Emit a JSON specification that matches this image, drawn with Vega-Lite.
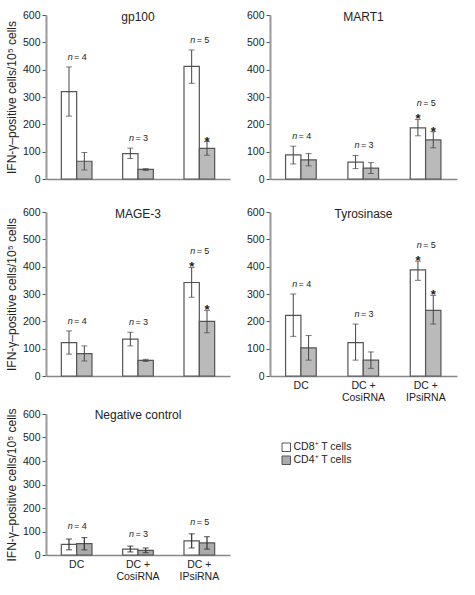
{
  "$schema": "https://vega.github.io/schema/vega-lite/v6.json",
  "background": "white",
  "padding": {"left": 5, "top": 10, "right": 5, "bottom": 2},
  "config": {
    "font": "Liberation Sans",
    "view": {"stroke": null},
    "axis": {"grid": false, "labelFont": "Liberation Sans", "labelFontSize": 10.5, "labelColor": "#222", "titleFont": "Liberation Sans", "titleFontSize": 12, "titleFontWeight": "normal", "titleColor": "#222", "tickColor": "#555", "tickSize": 4},
    "axisY": {"domainColor": "#999", "domainWidth": 2, "tickCount": 7, "labelPadding": 2, "titlePadding": 4, "labelOverlap": false},
    "axisX": {"domainColor": "#888", "domainWidth": 1.5, "ticks": false, "labelPadding": 4, "title": null, "labelAngle": 0, "labelLineHeight": 12},
    "title": {"font": "Liberation Sans", "fontSize": 12, "fontWeight": "normal", "offset": -14, "color": "#222", "anchor": "middle"},
    "text": {"font": "Liberation Sans", "color": "#222"}
  },
  "datasets": {
    "bars": [
      {"panel": "gp100", "group": "DC", "cell": "CD8⁺ T cells", "value": 320, "lo": 230, "hi": 410, "star": false, "n": 4},
      {"panel": "gp100", "group": "DC", "cell": "CD4⁺ T cells", "value": 65, "lo": 33, "hi": 97, "star": false, "n": 4},
      {"panel": "gp100", "group": "DC + CosiRNA", "cell": "CD8⁺ T cells", "value": 93, "lo": 75, "hi": 113, "star": false, "n": 3},
      {"panel": "gp100", "group": "DC + CosiRNA", "cell": "CD4⁺ T cells", "value": 35, "lo": 31, "hi": 38, "star": false, "n": 3},
      {"panel": "gp100", "group": "DC + IPsiRNA", "cell": "CD8⁺ T cells", "value": 412, "lo": 350, "hi": 472, "star": false, "n": 5},
      {"panel": "gp100", "group": "DC + IPsiRNA", "cell": "CD4⁺ T cells", "value": 112, "lo": 87, "hi": 137, "star": true, "n": 5},

      {"panel": "MART1", "group": "DC", "cell": "CD8⁺ T cells", "value": 88, "lo": 55, "hi": 120, "star": false, "n": 4},
      {"panel": "MART1", "group": "DC", "cell": "CD4⁺ T cells", "value": 70, "lo": 48, "hi": 93, "star": false, "n": 4},
      {"panel": "MART1", "group": "DC + CosiRNA", "cell": "CD8⁺ T cells", "value": 62, "lo": 38, "hi": 86, "star": false, "n": 3},
      {"panel": "MART1", "group": "DC + CosiRNA", "cell": "CD4⁺ T cells", "value": 40, "lo": 20, "hi": 60, "star": false, "n": 3},
      {"panel": "MART1", "group": "DC + IPsiRNA", "cell": "CD8⁺ T cells", "value": 187, "lo": 158, "hi": 218, "star": true, "n": 5},
      {"panel": "MART1", "group": "DC + IPsiRNA", "cell": "CD4⁺ T cells", "value": 143, "lo": 114, "hi": 173, "star": true, "n": 5},

      {"panel": "MAGE-3", "group": "DC", "cell": "CD8⁺ T cells", "value": 122, "lo": 80, "hi": 165, "star": false, "n": 4},
      {"panel": "MAGE-3", "group": "DC", "cell": "CD4⁺ T cells", "value": 82, "lo": 55, "hi": 110, "star": false, "n": 4},
      {"panel": "MAGE-3", "group": "DC + CosiRNA", "cell": "CD8⁺ T cells", "value": 135, "lo": 110, "hi": 160, "star": false, "n": 3},
      {"panel": "MAGE-3", "group": "DC + CosiRNA", "cell": "CD4⁺ T cells", "value": 57, "lo": 53, "hi": 61, "star": false, "n": 3},
      {"panel": "MAGE-3", "group": "DC + IPsiRNA", "cell": "CD8⁺ T cells", "value": 342, "lo": 288, "hi": 397, "star": true, "n": 5},
      {"panel": "MAGE-3", "group": "DC + IPsiRNA", "cell": "CD4⁺ T cells", "value": 200, "lo": 158, "hi": 240, "star": true, "n": 5},

      {"panel": "Tyrosinase", "group": "DC", "cell": "CD8⁺ T cells", "value": 222, "lo": 145, "hi": 300, "star": false, "n": 4},
      {"panel": "Tyrosinase", "group": "DC", "cell": "CD4⁺ T cells", "value": 103, "lo": 58, "hi": 148, "star": false, "n": 4},
      {"panel": "Tyrosinase", "group": "DC + CosiRNA", "cell": "CD8⁺ T cells", "value": 122, "lo": 58, "hi": 190, "star": false, "n": 3},
      {"panel": "Tyrosinase", "group": "DC + CosiRNA", "cell": "CD4⁺ T cells", "value": 58, "lo": 28, "hi": 88, "star": false, "n": 3},
      {"panel": "Tyrosinase", "group": "DC + IPsiRNA", "cell": "CD8⁺ T cells", "value": 388, "lo": 350, "hi": 420, "star": true, "n": 5},
      {"panel": "Tyrosinase", "group": "DC + IPsiRNA", "cell": "CD4⁺ T cells", "value": 240, "lo": 190, "hi": 295, "star": true, "n": 5},

      {"panel": "Negative control", "group": "DC", "cell": "CD8⁺ T cells", "value": 45, "lo": 22, "hi": 68, "star": false, "n": 4},
      {"panel": "Negative control", "group": "DC", "cell": "CD4⁺ T cells", "value": 48, "lo": 22, "hi": 74, "star": false, "n": 4},
      {"panel": "Negative control", "group": "DC + CosiRNA", "cell": "CD8⁺ T cells", "value": 25, "lo": 13, "hi": 38, "star": false, "n": 3},
      {"panel": "Negative control", "group": "DC + CosiRNA", "cell": "CD4⁺ T cells", "value": 20, "lo": 10, "hi": 30, "star": false, "n": 3},
      {"panel": "Negative control", "group": "DC + IPsiRNA", "cell": "CD8⁺ T cells", "value": 60, "lo": 30, "hi": 90, "star": false, "n": 5},
      {"panel": "Negative control", "group": "DC + IPsiRNA", "cell": "CD4⁺ T cells", "value": 52, "lo": 25, "hi": 78, "star": false, "n": 5}
    ]
  },
  "resolve": {"scale": {"fill": "independent"}, "legend": {"fill": "independent"}},
  "spacing": 4,
  "vconcat": [
    {
      "spacing": 22,
      "vconcat": [
        {
          "spacing": 16,
          "hconcat": [
            {
              "width": 184, "height": 164,
              "title": "gp100",
              "data": {"name": "bars"},
              "transform": [{"filter": "datum.panel === 'gp100'"}],
              "encoding": {"x": {"field": "group", "type": "nominal", "scale": {"domain": ["DC", "DC + CosiRNA", "DC + IPsiRNA"], "paddingInner": 0.5, "paddingOuter": 0.25}, "axis": {"labels": false}}},
              "layer": [
                {"mark": {"type": "bar", "stroke": "#555", "strokeWidth": 1.2}, "encoding": {"xOffset": {"field": "cell", "type": "nominal", "sort": ["CD8⁺ T cells", "CD4⁺ T cells"]}, "y": {"field": "value", "type": "quantitative", "scale": {"domain": [0, 600]}, "axis": {"title": "IFN-γ–positive cells/10⁵ cells"}}, "fill": {"field": "cell", "type": "nominal", "scale": {"domain": ["CD8⁺ T cells", "CD4⁺ T cells"], "range": ["#ffffff", "#bababa"]}, "legend": null}}},
                {"mark": {"type": "rule", "color": "#444", "strokeWidth": 1}, "encoding": {"xOffset": {"field": "cell", "type": "nominal", "sort": ["CD8⁺ T cells", "CD4⁺ T cells"]}, "y": {"field": "lo", "type": "quantitative", "scale": {"domain": [0, 600]}, "axis": {"title": "IFN-γ–positive cells/10⁵ cells"}}, "y2": {"field": "hi"}}},
                {"mark": {"type": "tick", "color": "#444", "size": 6, "thickness": 1}, "encoding": {"xOffset": {"field": "cell", "type": "nominal", "sort": ["CD8⁺ T cells", "CD4⁺ T cells"]}, "y": {"field": "lo", "type": "quantitative", "scale": {"domain": [0, 600]}, "axis": {"title": "IFN-γ–positive cells/10⁵ cells"}}}},
                {"mark": {"type": "tick", "color": "#444", "size": 6, "thickness": 1}, "encoding": {"xOffset": {"field": "cell", "type": "nominal", "sort": ["CD8⁺ T cells", "CD4⁺ T cells"]}, "y": {"field": "hi", "type": "quantitative", "scale": {"domain": [0, 600]}, "axis": {"title": "IFN-γ–positive cells/10⁵ cells"}}}},
                {"transform": [{"filter": "datum.star"}], "mark": {"type": "text", "text": "*", "fontWeight": "bold", "fontSize": 13, "baseline": "middle", "dy": 0}, "encoding": {"xOffset": {"field": "cell", "type": "nominal", "sort": ["CD8⁺ T cells", "CD4⁺ T cells"]}, "y": {"field": "hi", "type": "quantitative", "scale": {"domain": [0, 600]}, "axis": {"title": "IFN-γ–positive cells/10⁵ cells"}}}},
                {"transform": [{"joinaggregate": [{"op": "max", "field": "hi", "as": "top"}], "groupby": ["group"]}, {"filter": "datum.hi === datum.top"}, {"filter": "!datum.star"}],
                 "encoding": {"y": {"field": "top", "type": "quantitative", "scale": {"domain": [0, 600]}, "axis": {"title": "IFN-γ–positive cells/10⁵ cells"}}},
                 "layer": [
                   {"mark": {"type": "text", "text": "n", "fontStyle": "italic", "fontSize": 9, "align": "right", "dx": -4, "dy": -10}},
                   {"mark": {"type": "text", "text": "=", "fontSize": 9, "align": "center", "dx": 0, "dy": -10}},
                   {"mark": {"type": "text", "fontSize": 9, "align": "left", "dx": 5, "dy": -10}, "encoding": {"text": {"field": "n", "type": "nominal"}}}
                 ]},
                {"transform": [{"joinaggregate": [{"op": "max", "field": "hi", "as": "top"}], "groupby": ["group"]}, {"filter": "datum.hi === datum.top"}, {"filter": "datum.star"}],
                 "encoding": {"y": {"field": "top", "type": "quantitative", "scale": {"domain": [0, 600]}, "axis": {"title": "IFN-γ–positive cells/10⁵ cells"}}},
                 "layer": [
                   {"mark": {"type": "text", "text": "n", "fontStyle": "italic", "fontSize": 9, "align": "right", "dx": -4, "dy": -16}},
                   {"mark": {"type": "text", "text": "=", "fontSize": 9, "align": "center", "dx": 0, "dy": -16}},
                   {"mark": {"type": "text", "fontSize": 9, "align": "left", "dx": 5, "dy": -16}, "encoding": {"text": {"field": "n", "type": "nominal"}}}
                 ]}
              ]
            },
            {
              "width": 187, "height": 164,
              "title": "MART1",
              "data": {"name": "bars"},
              "transform": [{"filter": "datum.panel === 'MART1'"}],
              "encoding": {"x": {"field": "group", "type": "nominal", "scale": {"domain": ["DC", "DC + CosiRNA", "DC + IPsiRNA"], "paddingInner": 0.5, "paddingOuter": 0.25}, "axis": {"labels": false}}},
              "layer": [
                {"mark": {"type": "bar", "stroke": "#555", "strokeWidth": 1.2}, "encoding": {"xOffset": {"field": "cell", "type": "nominal", "sort": ["CD8⁺ T cells", "CD4⁺ T cells"]}, "y": {"field": "value", "type": "quantitative", "scale": {"domain": [0, 600]}, "axis": {"title": null}}, "fill": {"field": "cell", "type": "nominal", "scale": {"domain": ["CD8⁺ T cells", "CD4⁺ T cells"], "range": ["#ffffff", "#bababa"]}, "legend": null}}},
                {"mark": {"type": "rule", "color": "#444", "strokeWidth": 1}, "encoding": {"xOffset": {"field": "cell", "type": "nominal", "sort": ["CD8⁺ T cells", "CD4⁺ T cells"]}, "y": {"field": "lo", "type": "quantitative", "scale": {"domain": [0, 600]}, "axis": {"title": null}}, "y2": {"field": "hi"}}},
                {"mark": {"type": "tick", "color": "#444", "size": 6, "thickness": 1}, "encoding": {"xOffset": {"field": "cell", "type": "nominal", "sort": ["CD8⁺ T cells", "CD4⁺ T cells"]}, "y": {"field": "lo", "type": "quantitative", "scale": {"domain": [0, 600]}, "axis": {"title": null}}}},
                {"mark": {"type": "tick", "color": "#444", "size": 6, "thickness": 1}, "encoding": {"xOffset": {"field": "cell", "type": "nominal", "sort": ["CD8⁺ T cells", "CD4⁺ T cells"]}, "y": {"field": "hi", "type": "quantitative", "scale": {"domain": [0, 600]}, "axis": {"title": null}}}},
                {"transform": [{"filter": "datum.star"}], "mark": {"type": "text", "text": "*", "fontWeight": "bold", "fontSize": 13, "baseline": "middle", "dy": 0}, "encoding": {"xOffset": {"field": "cell", "type": "nominal", "sort": ["CD8⁺ T cells", "CD4⁺ T cells"]}, "y": {"field": "hi", "type": "quantitative", "scale": {"domain": [0, 600]}, "axis": {"title": null}}}},
                {"transform": [{"joinaggregate": [{"op": "max", "field": "hi", "as": "top"}], "groupby": ["group"]}, {"filter": "datum.hi === datum.top"}, {"filter": "!datum.star"}],
                 "encoding": {"y": {"field": "top", "type": "quantitative", "scale": {"domain": [0, 600]}, "axis": {"title": null}}},
                 "layer": [
                   {"mark": {"type": "text", "text": "n", "fontStyle": "italic", "fontSize": 9, "align": "right", "dx": -4, "dy": -10}},
                   {"mark": {"type": "text", "text": "=", "fontSize": 9, "align": "center", "dx": 0, "dy": -10}},
                   {"mark": {"type": "text", "fontSize": 9, "align": "left", "dx": 5, "dy": -10}, "encoding": {"text": {"field": "n", "type": "nominal"}}}
                 ]},
                {"transform": [{"joinaggregate": [{"op": "max", "field": "hi", "as": "top"}], "groupby": ["group"]}, {"filter": "datum.hi === datum.top"}, {"filter": "datum.star"}],
                 "encoding": {"y": {"field": "top", "type": "quantitative", "scale": {"domain": [0, 600]}, "axis": {"title": null}}},
                 "layer": [
                   {"mark": {"type": "text", "text": "n", "fontStyle": "italic", "fontSize": 9, "align": "right", "dx": -4, "dy": -16}},
                   {"mark": {"type": "text", "text": "=", "fontSize": 9, "align": "center", "dx": 0, "dy": -16}},
                   {"mark": {"type": "text", "fontSize": 9, "align": "left", "dx": 5, "dy": -16}, "encoding": {"text": {"field": "n", "type": "nominal"}}}
                 ]}
              ]
            }
          ]
        },
        {
          "spacing": 16,
          "hconcat": [
            {
              "width": 184, "height": 164,
              "title": "MAGE-3",
              "data": {"name": "bars"},
              "transform": [{"filter": "datum.panel === 'MAGE-3'"}],
              "encoding": {"x": {"field": "group", "type": "nominal", "scale": {"domain": ["DC", "DC + CosiRNA", "DC + IPsiRNA"], "paddingInner": 0.5, "paddingOuter": 0.25}, "axis": {"labels": false}}},
              "layer": [
                {"mark": {"type": "bar", "stroke": "#555", "strokeWidth": 1.2}, "encoding": {"xOffset": {"field": "cell", "type": "nominal", "sort": ["CD8⁺ T cells", "CD4⁺ T cells"]}, "y": {"field": "value", "type": "quantitative", "scale": {"domain": [0, 600]}, "axis": {"title": "IFN-γ–positive cells/10⁵ cells"}}, "fill": {"field": "cell", "type": "nominal", "scale": {"domain": ["CD8⁺ T cells", "CD4⁺ T cells"], "range": ["#ffffff", "#bababa"]}, "legend": null}}},
                {"mark": {"type": "rule", "color": "#444", "strokeWidth": 1}, "encoding": {"xOffset": {"field": "cell", "type": "nominal", "sort": ["CD8⁺ T cells", "CD4⁺ T cells"]}, "y": {"field": "lo", "type": "quantitative", "scale": {"domain": [0, 600]}, "axis": {"title": "IFN-γ–positive cells/10⁵ cells"}}, "y2": {"field": "hi"}}},
                {"mark": {"type": "tick", "color": "#444", "size": 6, "thickness": 1}, "encoding": {"xOffset": {"field": "cell", "type": "nominal", "sort": ["CD8⁺ T cells", "CD4⁺ T cells"]}, "y": {"field": "lo", "type": "quantitative", "scale": {"domain": [0, 600]}, "axis": {"title": "IFN-γ–positive cells/10⁵ cells"}}}},
                {"mark": {"type": "tick", "color": "#444", "size": 6, "thickness": 1}, "encoding": {"xOffset": {"field": "cell", "type": "nominal", "sort": ["CD8⁺ T cells", "CD4⁺ T cells"]}, "y": {"field": "hi", "type": "quantitative", "scale": {"domain": [0, 600]}, "axis": {"title": "IFN-γ–positive cells/10⁵ cells"}}}},
                {"transform": [{"filter": "datum.star"}], "mark": {"type": "text", "text": "*", "fontWeight": "bold", "fontSize": 13, "baseline": "middle", "dy": 0}, "encoding": {"xOffset": {"field": "cell", "type": "nominal", "sort": ["CD8⁺ T cells", "CD4⁺ T cells"]}, "y": {"field": "hi", "type": "quantitative", "scale": {"domain": [0, 600]}, "axis": {"title": "IFN-γ–positive cells/10⁵ cells"}}}},
                {"transform": [{"joinaggregate": [{"op": "max", "field": "hi", "as": "top"}], "groupby": ["group"]}, {"filter": "datum.hi === datum.top"}, {"filter": "!datum.star"}],
                 "encoding": {"y": {"field": "top", "type": "quantitative", "scale": {"domain": [0, 600]}, "axis": {"title": "IFN-γ–positive cells/10⁵ cells"}}},
                 "layer": [
                   {"mark": {"type": "text", "text": "n", "fontStyle": "italic", "fontSize": 9, "align": "right", "dx": -4, "dy": -10}},
                   {"mark": {"type": "text", "text": "=", "fontSize": 9, "align": "center", "dx": 0, "dy": -10}},
                   {"mark": {"type": "text", "fontSize": 9, "align": "left", "dx": 5, "dy": -10}, "encoding": {"text": {"field": "n", "type": "nominal"}}}
                 ]},
                {"transform": [{"joinaggregate": [{"op": "max", "field": "hi", "as": "top"}], "groupby": ["group"]}, {"filter": "datum.hi === datum.top"}, {"filter": "datum.star"}],
                 "encoding": {"y": {"field": "top", "type": "quantitative", "scale": {"domain": [0, 600]}, "axis": {"title": "IFN-γ–positive cells/10⁵ cells"}}},
                 "layer": [
                   {"mark": {"type": "text", "text": "n", "fontStyle": "italic", "fontSize": 9, "align": "right", "dx": -4, "dy": -16}},
                   {"mark": {"type": "text", "text": "=", "fontSize": 9, "align": "center", "dx": 0, "dy": -16}},
                   {"mark": {"type": "text", "fontSize": 9, "align": "left", "dx": 5, "dy": -16}, "encoding": {"text": {"field": "n", "type": "nominal"}}}
                 ]}
              ]
            },
            {
              "width": 187, "height": 164,
              "title": "Tyrosinase",
              "data": {"name": "bars"},
              "transform": [{"filter": "datum.panel === 'Tyrosinase'"}],
              "encoding": {"x": {"field": "group", "type": "nominal", "scale": {"domain": ["DC", "DC + CosiRNA", "DC + IPsiRNA"], "paddingInner": 0.5, "paddingOuter": 0.25}, "axis": {"labelExpr": "datum.value == 'DC' ? 'DC' : ['DC +', replace(datum.value, 'DC + ', '')]"}}},
              "layer": [
                {"mark": {"type": "bar", "stroke": "#555", "strokeWidth": 1.2}, "encoding": {"xOffset": {"field": "cell", "type": "nominal", "sort": ["CD8⁺ T cells", "CD4⁺ T cells"]}, "y": {"field": "value", "type": "quantitative", "scale": {"domain": [0, 600]}, "axis": {"title": null}}, "fill": {"field": "cell", "type": "nominal", "scale": {"domain": ["CD8⁺ T cells", "CD4⁺ T cells"], "range": ["#ffffff", "#bababa"]}, "legend": null}}},
                {"mark": {"type": "rule", "color": "#444", "strokeWidth": 1}, "encoding": {"xOffset": {"field": "cell", "type": "nominal", "sort": ["CD8⁺ T cells", "CD4⁺ T cells"]}, "y": {"field": "lo", "type": "quantitative", "scale": {"domain": [0, 600]}, "axis": {"title": null}}, "y2": {"field": "hi"}}},
                {"mark": {"type": "tick", "color": "#444", "size": 6, "thickness": 1}, "encoding": {"xOffset": {"field": "cell", "type": "nominal", "sort": ["CD8⁺ T cells", "CD4⁺ T cells"]}, "y": {"field": "lo", "type": "quantitative", "scale": {"domain": [0, 600]}, "axis": {"title": null}}}},
                {"mark": {"type": "tick", "color": "#444", "size": 6, "thickness": 1}, "encoding": {"xOffset": {"field": "cell", "type": "nominal", "sort": ["CD8⁺ T cells", "CD4⁺ T cells"]}, "y": {"field": "hi", "type": "quantitative", "scale": {"domain": [0, 600]}, "axis": {"title": null}}}},
                {"transform": [{"filter": "datum.star"}], "mark": {"type": "text", "text": "*", "fontWeight": "bold", "fontSize": 13, "baseline": "middle", "dy": 0}, "encoding": {"xOffset": {"field": "cell", "type": "nominal", "sort": ["CD8⁺ T cells", "CD4⁺ T cells"]}, "y": {"field": "hi", "type": "quantitative", "scale": {"domain": [0, 600]}, "axis": {"title": null}}}},
                {"transform": [{"joinaggregate": [{"op": "max", "field": "hi", "as": "top"}], "groupby": ["group"]}, {"filter": "datum.hi === datum.top"}, {"filter": "!datum.star"}],
                 "encoding": {"y": {"field": "top", "type": "quantitative", "scale": {"domain": [0, 600]}, "axis": {"title": null}}},
                 "layer": [
                   {"mark": {"type": "text", "text": "n", "fontStyle": "italic", "fontSize": 9, "align": "right", "dx": -4, "dy": -10}},
                   {"mark": {"type": "text", "text": "=", "fontSize": 9, "align": "center", "dx": 0, "dy": -10}},
                   {"mark": {"type": "text", "fontSize": 9, "align": "left", "dx": 5, "dy": -10}, "encoding": {"text": {"field": "n", "type": "nominal"}}}
                 ]},
                {"transform": [{"joinaggregate": [{"op": "max", "field": "hi", "as": "top"}], "groupby": ["group"]}, {"filter": "datum.hi === datum.top"}, {"filter": "datum.star"}],
                 "encoding": {"y": {"field": "top", "type": "quantitative", "scale": {"domain": [0, 600]}, "axis": {"title": null}}},
                 "layer": [
                   {"mark": {"type": "text", "text": "n", "fontStyle": "italic", "fontSize": 9, "align": "right", "dx": -4, "dy": -16}},
                   {"mark": {"type": "text", "text": "=", "fontSize": 9, "align": "center", "dx": 0, "dy": -16}},
                   {"mark": {"type": "text", "fontSize": 9, "align": "left", "dx": 5, "dy": -16}, "encoding": {"text": {"field": "n", "type": "nominal"}}}
                 ]}
              ]
            }
          ]
        }
      ]
    },
    {
      "width": 184, "height": 141,
      "title": "Negative control",
      "data": {"name": "bars"},
      "transform": [{"filter": "datum.panel === 'Negative control'"}],
      "encoding": {"x": {"field": "group", "type": "nominal", "scale": {"domain": ["DC", "DC + CosiRNA", "DC + IPsiRNA"], "paddingInner": 0.5, "paddingOuter": 0.25}, "axis": {"labelExpr": "datum.value == 'DC' ? 'DC' : ['DC +', replace(datum.value, 'DC + ', '')]"}}},
      "layer": [
        {"mark": {"type": "bar", "stroke": "#555", "strokeWidth": 1.2}, "encoding": {"xOffset": {"field": "cell", "type": "nominal", "sort": ["CD8⁺ T cells", "CD4⁺ T cells"]}, "y": {"field": "value", "type": "quantitative", "scale": {"domain": [0, 600]}, "axis": {"title": "IFN-γ–positive cells/10⁵ cells", "values": [0, 100, 200, 300, 400, 500, 600], "labelOverlap": false}}, "fill": {"field": "cell", "type": "nominal", "scale": {"domain": ["CD8⁺ T cells", "CD4⁺ T cells"], "range": ["#ffffff", "#ababab"]}, "legend": {"orient": "none", "legendX": 235, "legendY": 28, "title": null, "symbolType": "square", "symbolSize": 72, "symbolStrokeColor": "#555", "symbolStrokeWidth": 1, "labelFont": "Liberation Sans", "labelFontSize": 10.5, "labelColor": "#222", "labelOffset": 2, "rowPadding": 0}}}},
        {"mark": {"type": "rule", "color": "#333", "strokeWidth": 1.2}, "encoding": {"xOffset": {"field": "cell", "type": "nominal", "sort": ["CD8⁺ T cells", "CD4⁺ T cells"]}, "y": {"field": "lo", "type": "quantitative", "scale": {"domain": [0, 600]}, "axis": {"title": "IFN-γ–positive cells/10⁵ cells", "values": [0, 100, 200, 300, 400, 500, 600], "labelOverlap": false}}, "y2": {"field": "hi"}}},
        {"mark": {"type": "tick", "color": "#333", "size": 6, "thickness": 1.2}, "encoding": {"xOffset": {"field": "cell", "type": "nominal", "sort": ["CD8⁺ T cells", "CD4⁺ T cells"]}, "y": {"field": "lo", "type": "quantitative", "scale": {"domain": [0, 600]}, "axis": {"title": "IFN-γ–positive cells/10⁵ cells", "values": [0, 100, 200, 300, 400, 500, 600], "labelOverlap": false}}}},
        {"mark": {"type": "tick", "color": "#333", "size": 6, "thickness": 1.2}, "encoding": {"xOffset": {"field": "cell", "type": "nominal", "sort": ["CD8⁺ T cells", "CD4⁺ T cells"]}, "y": {"field": "hi", "type": "quantitative", "scale": {"domain": [0, 600]}, "axis": {"title": "IFN-γ–positive cells/10⁵ cells", "values": [0, 100, 200, 300, 400, 500, 600], "labelOverlap": false}}}},
        {"transform": [{"joinaggregate": [{"op": "max", "field": "hi", "as": "top"}], "groupby": ["group"]}, {"filter": "datum.hi === datum.top"}],
         "mark": {"type": "text", "text": "n", "fontStyle": "italic", "fontSize": 9, "align": "right", "dx": -4, "dy": -12},
         "encoding": {"y": {"field": "top", "type": "quantitative", "scale": {"domain": [0, 600]}, "axis": {"title": "IFN-γ–positive cells/10⁵ cells", "values": [0, 100, 200, 300, 400, 500, 600], "labelOverlap": false}}}},
        {"transform": [{"joinaggregate": [{"op": "max", "field": "hi", "as": "top"}], "groupby": ["group"]}, {"filter": "datum.hi === datum.top"}],
         "mark": {"type": "text", "text": "=", "fontSize": 9, "align": "center", "dx": 0, "dy": -12},
         "encoding": {"y": {"field": "top", "type": "quantitative", "scale": {"domain": [0, 600]}, "axis": {"title": "IFN-γ–positive cells/10⁵ cells", "values": [0, 100, 200, 300, 400, 500, 600], "labelOverlap": false}}}},
        {"transform": [{"joinaggregate": [{"op": "max", "field": "hi", "as": "top"}], "groupby": ["group"]}, {"filter": "datum.hi === datum.top"}],
         "mark": {"type": "text", "fontSize": 9, "align": "left", "dx": 5, "dy": -12},
         "encoding": {"y": {"field": "top", "type": "quantitative", "scale": {"domain": [0, 600]}, "axis": {"title": "IFN-γ–positive cells/10⁵ cells", "values": [0, 100, 200, 300, 400, 500, 600], "labelOverlap": false}}, "text": {"field": "n", "type": "nominal"}}}
      ]
    }
  ]
}
